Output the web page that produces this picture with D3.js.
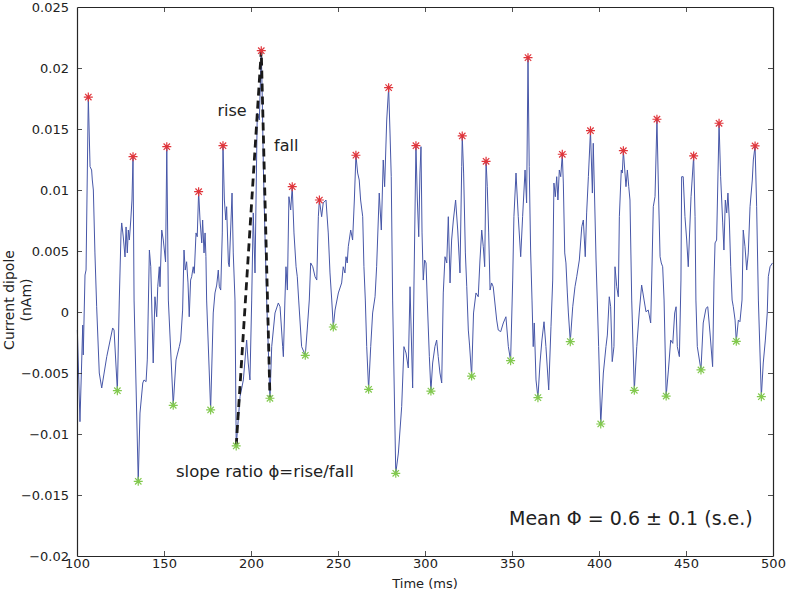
<!DOCTYPE html>
<html>
<head>
<meta charset="utf-8">
<script src="https://cdn.jsdelivr.net/npm/d3@7"></script>
<style>
  html, body { margin: 0; padding: 0; background: #fff; }
  svg { display: block; }
  text { font-family: "DejaVu Sans", sans-serif; fill: #222; }
</style>
</head>
<body>
<svg id="chart" width="787" height="597"></svg>
<script>
// ---- data (time in ms, current dipole in nAm) ----
const time = [
100.2,101.7,103.3,103.6,104.6,105.2,106.5,107.5,108.4,108.8,109.4,110.3,111.3,112.8,114.2,117.1,120.5,121.3,123.2,124.3,
125.3,125.7,126.6,127.6,128.2,128.9,129.5,130.1,130.9,131.6,132.2,132.8,135.2,136.2,137.8,138.5,139.7,140.4,141.6,142.4,
143.8,144.8,145.8,146.4,147.3,147.7,148.7,149.6,150.9,151.6,152.5,155.3,156.9,157.6,158.8,159.6,160.7,161.5,162.2,163.0,
163.8,164.5,165.3,165.9,166.8,167.4,168.4,169.1,169.9,170.7,171.7,172.2,173.0,173.6,174.1,174.5,176.8,178.3,179.3,180.3,
181.2,181.8,182.6,183.5,183.9,184.7,185.5,186.0,187.0,187.5,188.3,189.1,189.8,190.8,191.5,193.7,195.6,197.5,198.4,199.4,
200.4,201.3,202.3,203.6,204.8,205.9,206.5,207.1,208.0,209.0,209.9,210.9,211.9,213.8,215.7,216.7,218.2,218.6,219.5,220.1,
220.9,221.8,222.8,223.7,224.7,225.9,226.6,227.4,229.1,231.2,232.3,233.5,234.3,235.5,236.8,237.8,238.7,239.3,240.6,241.5,
243.1,244.4,245.4,246.4,247.3,248.3,250.2,252.1,253.0,254.0,254.6,255.3,255.9,257.3,258.4,259.4,260.3,261.3,262.2,263.0,
264.2,264.9,265.7,266.5,267.6,268.8,269.9,271.3,272.2,273.7,274.9,276.0,276.8,278.0,279.1,279.9,280.6,281.4,283.2,284.7,
286.6,287.9,289.1,290.4,291.4,292.9,293.7,294.8,295.6,296.4,297.1,297.7,298.3,299.0,299.8,300.6,301.3,302.5,303.4,304.4,
305.7,306.7,307.6,308.6,309.6,310.5,311.5,312.5,313.4,314.4,315.3,316.3,317.6,318.8,320.1,321.1,321.4,322.2,323.2,324.0,
324.9,325.6,326.8,327.9,329.3,330.6,331.6,332.6,333.5,334.3,335.1,335.8,336.6,337.4,338.3,339.2,341.2,342.1,343.5,345.0,
346.5,347.9,349.2,350.4,351.1,352.3,353.6,355.0,356.1,357.5,358.4,359.2,359.9,360.7,361.5,362.2,362.8,363.8,364.9,366.1,
367.2,368.4,369.5,371.1,372.4,373.4,374.1,374.9,375.7,376.4,377.2,378.0,378.9,379.5,380.3,381.0,381.8,382.4,383.5,384.9,
386.2,387.2,388.7,390.1,391.0,392.1,392.9,393.9,395.1,396.2,396.7,397.5,398.3,399.0,399.8,401.0,402.5,404.0,404.8,405.9,
406.7,407.6,408.6,409.2,410.2,411.1,411.7,412.8,413.4,414.0,414.8,415.5,416.3,417.1,417.8,418.8,420.3,421.7,423.1,424.5,
425.9,427.0,428.3,429.7,430.3,431.2,432.2,433.3,434.3,435.1,435.8,436.6,437.4,438.6,439.9,441.2,442.4,443.5,444.3,445.0,
446.2,447.1,447.5,448.4,449.4,450.4,451.3,452.9,454.4,455.2,455.7,456.5,458.6,459.9,461.5,462.5,463.8,465.3,466.1,466.7,
467.6,469.0,469.9,471.1,471.8,472.6,473.4,474.1,474.9,475.7,476.5,477.2,478.2,478.9,480.1,481.0,482.2,482.9,483.9,484.9,
485.8,486.8,488.1,488.7,489.7,490.6,491.6,493.3,494.4,495.6,496.7,497.3,498.3,499.7
];
const dipole = [
-0.00148,-0.00899,-0.00107,-0.00352,0.00303,0.00344,0.01762,0.01191,0.01164,0.01082,0.01000,0.00484,0.00043,-0.00500,-0.00623,-0.00366,-0.00131,-0.00148,-0.00645,0.00098,
0.00648,0.00730,0.00615,0.00451,0.00697,0.00484,0.00672,0.00590,0.00754,0.00918,0.01273,0.00098,-0.01388,-0.00828,-0.00582,-0.00557,-0.00571,-0.00393,0.00508,0.00371,
-0.00418,0.00125,-0.00039,0.00207,0.00371,0.00207,0.00672,0.00590,0.00410,0.01355,0.00098,-0.00765,-0.00393,-0.00352,-0.00284,-0.00230,0.00016,0.00508,0.00344,0.00412,
0.00238,-0.00039,0.00262,0.00289,0.00371,0.00317,0.00648,0.00617,0.00986,0.00754,0.00566,0.00754,0.00484,0.00648,0.00453,0.00098,-0.00803,-0.00008,0.00156,0.00221,
0.00344,0.00207,0.00180,0.00648,0.01363,0.00918,0.00754,0.00863,0.00402,0.00371,0.00672,0.00975,0.00484,0.00098,-0.01098,-0.00694,-0.00557,-0.00230,-0.00418,-0.00557,
0.00098,0.00812,0.00320,0.01631,0.01574,0.02142,0.01738,0.01191,0.00648,0.00098,-0.00284,-0.00707,-0.00284,-0.00008,0.00074,0.00043,-0.00284,-0.00366,0.00098,0.00371,
0.00180,0.00945,0.00836,0.01027,0.00648,0.00371,0.00289,0.00098,-0.00284,-0.00355,-0.00148,0.00098,0.00402,0.00371,0.00289,0.00262,0.00781,0.00918,0.00781,0.00894,
0.00918,0.00648,0.00320,0.00098,-0.00123,0.00016,0.00156,0.00238,0.00371,0.00320,0.00453,0.00402,0.00535,0.00672,0.00590,0.00918,0.01285,0.01139,0.01082,0.00918,
0.00781,0.00371,0.00098,-0.00284,-0.00634,-0.00284,-0.00008,0.00125,0.00371,0.00975,0.00672,0.01246,0.01027,0.01574,0.01839,0.01467,0.01109,0.00098,-0.01322,-0.01156,
-0.00776,-0.00284,-0.00336,-0.00459,0.00207,-0.00623,0.00262,0.01363,0.00918,0.00617,0.01139,0.01355,0.00648,0.00262,0.00426,0.00402,0.00098,-0.00366,-0.00648,-0.00418,
-0.00284,-0.00230,-0.00366,-0.00500,-0.00582,0.00156,0.00453,0.00402,0.00781,0.00238,0.00590,0.00754,0.00918,0.00672,0.00320,0.01191,0.01443,0.01139,0.00484,0.00207,
-0.00148,-0.00271,-0.00525,-0.00008,0.00156,0.00125,0.00426,0.00672,0.00535,0.00371,0.01235,0.01027,0.00648,0.00180,0.00238,0.00207,-0.00066,-0.00148,-0.00161,-0.00090,
-0.00039,-0.00284,-0.00399,0.00262,0.00781,0.01139,0.00781,0.00453,0.00781,0.01164,0.00894,0.02085,0.01191,0.00508,0.00098,-0.00284,-0.00090,-0.00557,-0.00702,-0.00418,
-0.00230,-0.00080,-0.00284,-0.00639,-0.00121,0.00262,0.01057,0.00945,0.01109,0.00918,0.01164,0.01109,0.01293,0.01057,0.00484,0.00402,0.00156,-0.00008,-0.00243,0.00043,
0.00207,0.00289,0.00426,0.00699,0.00754,0.00453,0.00812,0.01109,0.01486,0.00975,0.01383,0.00918,0.00426,0.00098,-0.00284,-0.00918,-0.00500,-0.00284,-0.00189,0.00125,
0.00043,-0.00407,-0.00284,0.00371,0.00207,0.00125,0.00781,0.01164,0.01139,0.01322,0.01164,0.01027,0.01164,0.01027,0.00918,0.00098,-0.00642,-0.00284,-0.00008,0.00221,
0.00098,0.00002,0.00016,-0.00090,0.00262,0.00863,0.00945,0.01580,0.00918,0.00453,0.00402,0.00371,0.00098,-0.00689,-0.00475,-0.00230,-0.00257,-0.00008,0.00043,-0.00284,
-0.00366,0.00262,0.01109,0.01109,0.00781,0.00590,0.00371,0.00945,0.01279,0.00781,0.00098,-0.00284,-0.00475,-0.00090,0.00030,0.00043,-0.00172,-0.00448,0.00262,0.00566,
0.00590,0.01547,0.01109,0.00730,0.00508,0.00918,0.00812,0.00975,0.00754,0.00371,0.00098,0.00043,-0.00066,-0.00240,-0.00066,-0.00080,0.00098,0.00672,0.00535,0.00344,
0.00484,0.00863,0.01082,0.01246,0.01361,0.00863,0.00098,-0.00694,-0.00418,-0.00230,-0.00008,0.00289,0.00371,0.00402
];
// detected peaks (red *) and troughs (green *)
const peakTime  = [106.5,132.2,151.6,169.9,183.9,205.9,223.7,239.3,260.3,279.1,294.8,321.4,335.1,359.2,378.9,395.1,414.0,433.3,454.4,469.0,489.7];
const peakValue = [0.01762,0.01273,0.01355,0.00986,0.01363,0.02142,0.01027,0.00918,0.01285,0.01839,0.01363,0.01443,0.01235,0.02085,0.01293,0.01486,0.01322,0.01580,0.01279,0.01547,0.01361];
const troughTime  = [123.2,135.2,155.3,176.8,191.5,210.9,231.2,247.3,267.6,283.2,303.4,326.8,349.2,364.9,383.5,401.0,420.3,438.6,458.6,478.9,493.3];
const troughValue = [-0.00645,-0.01388,-0.00765,-0.00803,-0.01098,-0.00707,-0.00355,-0.00123,-0.00634,-0.01322,-0.00648,-0.00525,-0.00399,-0.00702,-0.00243,-0.00918,-0.00642,-0.00689,-0.00475,-0.00240,-0.00694];
// rise / fall illustration (trough -> peak -> trough)
const slopeTime  = [191.5, 205.9, 210.9];
const slopeValue = [-0.01098, 0.02142, -0.00707];

const xTicks = [100,150,200,250,300,350,400,450,500];
const yTicks = [0.025,0.02,0.015,0.01,0.005,0,-0.005,-0.01,-0.015,-0.02];
const yTickLabels = ["0.025","0.02","0.015","0.01","0.005","0","\u22120.005","\u22120.01","\u22120.015","\u22120.02"];

// ---- layout ----
const L = 77, R = 773, T = 7, B = 556;
const svg = d3.select("#chart");
const x = d3.scaleLinear().domain([100, 500]).range([L, R]);
const y = d3.scaleLinear().domain([-0.02, 0.025]).range([B, T]);

// signal line
const line = d3.line().x(d => x(d[0])).y(d => y(d[1]));
svg.append("path")
  .datum(time.map((t, i) => [t, dipole[i]]))
  .attr("d", line)
  .attr("fill", "none")
  .attr("stroke", "#4757a8")
  .attr("stroke-width", 1)
  .attr("stroke-linejoin", "round");

// dashed rise/fall
svg.append("path")
  .datum(slopeTime.map((t, i) => [t, slopeValue[i]]))
  .attr("d", line)
  .attr("fill", "none")
  .attr("stroke", "#1a1a1a")
  .attr("stroke-width", 2.8)
  .attr("stroke-dasharray", "8,5");

// asterisk markers
function asterisk(g, px, py, color) {
  const s = 4.5, d = 3.2;
  const p = `M${px - s},${py}L${px + s},${py}M${px},${py - s}L${px},${py + s}` +
            `M${px - d},${py - d}L${px + d},${py + d}M${px - d},${py + d}L${px + d},${py - d}`;
  g.append("path").attr("d", p).attr("stroke", color).attr("stroke-width", 1.2).attr("fill", "none");
}
const mk = svg.append("g");
peakTime.forEach((t, i) => asterisk(mk, x(t), y(peakValue[i]), "#e0353b"));
troughTime.forEach((t, i) => asterisk(mk, x(t), y(troughValue[i]), "#82c94e"));

// axes (box with inward ticks)
const axisColor = "#262626";
const gx = svg.append("g").attr("transform", `translate(0,${B})`)
  .call(d3.axisBottom(x).tickValues(xTicks).tickSizeInner(-5).tickSizeOuter(0).tickPadding(3).tickFormat(d3.format("d")));
const gxt = svg.append("g").attr("transform", `translate(0,${T})`)
  .call(d3.axisTop(x).tickValues(xTicks).tickSizeInner(-5).tickSizeOuter(0).tickFormat(""));
const gy = svg.append("g").attr("transform", `translate(${L},0)`)
  .call(d3.axisLeft(y).tickValues(yTicks).tickSizeInner(-5).tickSizeOuter(0).tickPadding(8)
        .tickFormat((d, i) => yTickLabels[i]));
const gyr = svg.append("g").attr("transform", `translate(${R},0)`)
  .call(d3.axisRight(y).tickValues(yTicks).tickSizeInner(-5).tickSizeOuter(0).tickFormat(""));
[gx, gxt, gy, gyr].forEach(g => {
  g.selectAll("path.domain").attr("stroke", axisColor).attr("stroke-width", 1.2);
  g.selectAll(".tick line").attr("stroke", axisColor).attr("stroke-width", 0.8);
  g.selectAll(".tick text").attr("font-family", "DejaVu Sans, sans-serif").attr("font-size", 13).attr("fill", "#222");
});
// no ticks at the box corners
gxt.selectAll(".tick").filter(d => d === 100 || d === 500).select("line").remove();
gx.selectAll(".tick").filter(d => d === 100 || d === 500).select("line").remove();
gy.selectAll(".tick").filter(d => d === 0.025 || d === -0.02).select("line").remove();
gyr.selectAll(".tick").filter(d => d === 0.025 || d === -0.02).select("line").remove();

// axis labels
svg.append("text").attr("x", (L + R) / 2).attr("y", 588).attr("text-anchor", "middle")
  .attr("font-size", 13).text("Time (ms)");
const yl = svg.append("text").attr("transform", "translate(13.5,300) rotate(-90)")
  .attr("text-anchor", "middle").attr("font-size", 14);
yl.append("tspan").attr("x", 0).attr("y", 0).text("Current dipole");
yl.append("tspan").attr("x", 0).attr("y", 17.5).text("(nAm)");

// annotations
svg.append("text").attr("x", 217.5).attr("y", 116).attr("font-size", 16).text("rise");
svg.append("text").attr("x", 274).attr("y", 151).attr("font-size", 16).text("fall");
svg.append("text").attr("x", 176).attr("y", 477).attr("font-size", 16.5).text("slope ratio \u03d5=rise/fall");
svg.append("text").attr("x", 509).attr("y", 525).attr("font-size", 19).text("Mean \u03a6 = 0.6 \u00b1 0.1 (s.e.)");
</script>
</body>
</html>
